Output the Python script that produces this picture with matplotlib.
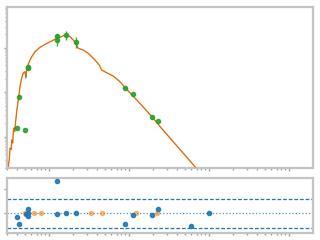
import matplotlib
matplotlib.use("Agg")
import matplotlib.pyplot as plt
from matplotlib.ticker import MultipleLocator

# model SED (wavelength in micron, flux)
model_wl = [0.310, 0.320, 0.326, 0.338, 0.342, 0.352, 0.358, 0.365, 0.372, 0.387,
            0.395, 0.413, 0.434, 0.456, 0.477, 0.501, 0.516, 0.526, 0.579, 0.608,
            0.668, 0.772, 0.891, 1.03, 1.19, 1.37, 1.63, 1.83, 2.11, 2.32,
            2.68, 3.10, 3.76, 4.25, 4.56, 5.26, 6.36, 7.72, 9.36, 13.7,
            19.4, 24.4, 66.8, 325.0]
model_flux = [2.12e-15, 3.4e-15, 5.57e-15, 5.2e-15, 8.5e-15, 7.22e-15, 1.3e-14, 1.57e-14, 1.3e-14, 2.63e-14,
              3.8e-14, 6.68e-14, 1.33e-13, 2.09e-13, 2.70e-13, 2.89e-13, 2.09e-13, 3.50e-13, 5.29e-13, 6.28e-13,
              8.13e-13, 1.02e-12, 1.19e-12, 1.36e-12, 1.55e-12, 1.71e-12, 2.00e-12, 1.77e-12, 1.36e-12, 9.7e-13,
              8.88e-13, 7.48e-13, 5.29e-13, 4.09e-13, 3.15e-13, 2.74e-13, 2.31e-13, 1.72e-13, 1.16e-13, 5.63e-14,
              2.81e-14, 1.70e-14, 2.12e-15, 8.5e-17]

# photometry
phot_wl = [0.401, 0.425, 0.506, 0.542, 0.551, 1.25, 1.27, 1.65, 2.19,
           8.99, 11.3, 19.4, 23.0, 60.1, 101.0]
phot_flux = [1.54e-14, 7.68e-14, 1.39e-14, 3.44e-13, 3.74e-13, 1.83e-12, 1.49e-12, 1.96e-12, 1.36e-12,
             1.22e-13, 8.97e-14, 2.73e-14, 2.25e-14, 1.0e-15, 3.0e-16]
phot_err = [0, 0, 0, 0, 0, 0.2e-12, 0.4e-12, 0.45e-12, 0.35e-12,
            0, 0, 0, 0, 0, 0]

# residuals
res_wl = [0.401, 0.425, 0.516, 0.542, 0.551, 0.551, 1.25, 1.27, 1.65, 2.19,
          8.99, 11.3, 19.4, 23.0, 60.1, 101.0]
res_val = [-0.18, -0.47, -0.05, 0.15, 0.01, -0.12, 1.32, -0.05, -0.01, -0.01,
           -0.47, -0.08, -0.08, 0.15, -0.55, -0.01]
lim_wl = [0.501, 0.655, 0.801, 3.38, 4.64, 12.3, 22.6]
lim_val = [0, 0, 0, 0, 0, 0, 0]
res_hi = 0.57
res_lo = -0.64

spine_c = "#c4c4c4"

fig = plt.figure(figsize=(3.2, 2.4), dpi=100)
ax = fig.add_axes([0.0219, 0.300, 0.956, 0.6708])
axr = fig.add_axes([0.0219, 0.0292, 0.956, 0.2292], sharex=ax)

ax.plot(model_wl, model_flux, color="#ff7f0e", lw=1.0, zorder=2)
ax.plot(model_wl, model_flux, color="#9c5a2e", lw=0.4, alpha=0.7, zorder=3)
ax.errorbar(phot_wl, phot_flux, yerr=phot_err, fmt="o", color="#2ca02c",
            ms=3, elinewidth=1, capsize=0, alpha=0.9, zorder=4)
ax.set_xscale("log")
ax.set_yscale("log")
ax.set_xlim(0.2985, 1995)
ax.set_ylim(1.98e-15, 8.23e-12)

axr.axhline(res_hi, color="#1f77b4", ls="--", lw=0.9, dashes=(3, 1.5))
axr.axhline(res_lo, color="#1f77b4", ls="--", lw=0.9, dashes=(3, 1.5))
axr.axhline(0, color="#1f77b4", ls=":", lw=0.9, alpha=0.8)
axr.plot(lim_wl, lim_val, "o", color="#ff7f0e", ms=3, alpha=0.5, zorder=3)
axr.plot(res_wl, res_val, "o", color="#1f77b4", ms=3, alpha=0.9, zorder=4)
axr.set_ylim(-0.83, 1.46)
axr.yaxis.set_major_locator(MultipleLocator(1))

for a in (ax, axr):
    for s in a.spines.values():
        s.set_color(spine_c)
        s.set_linewidth(1.6)
    a.tick_params(which="both", colors="#a0a0a0", labelleft=False,
                  labelbottom=False, length=2, width=1)
    a.tick_params(which="minor", length=1.2)

fig.savefig("out.png", dpi=100)
